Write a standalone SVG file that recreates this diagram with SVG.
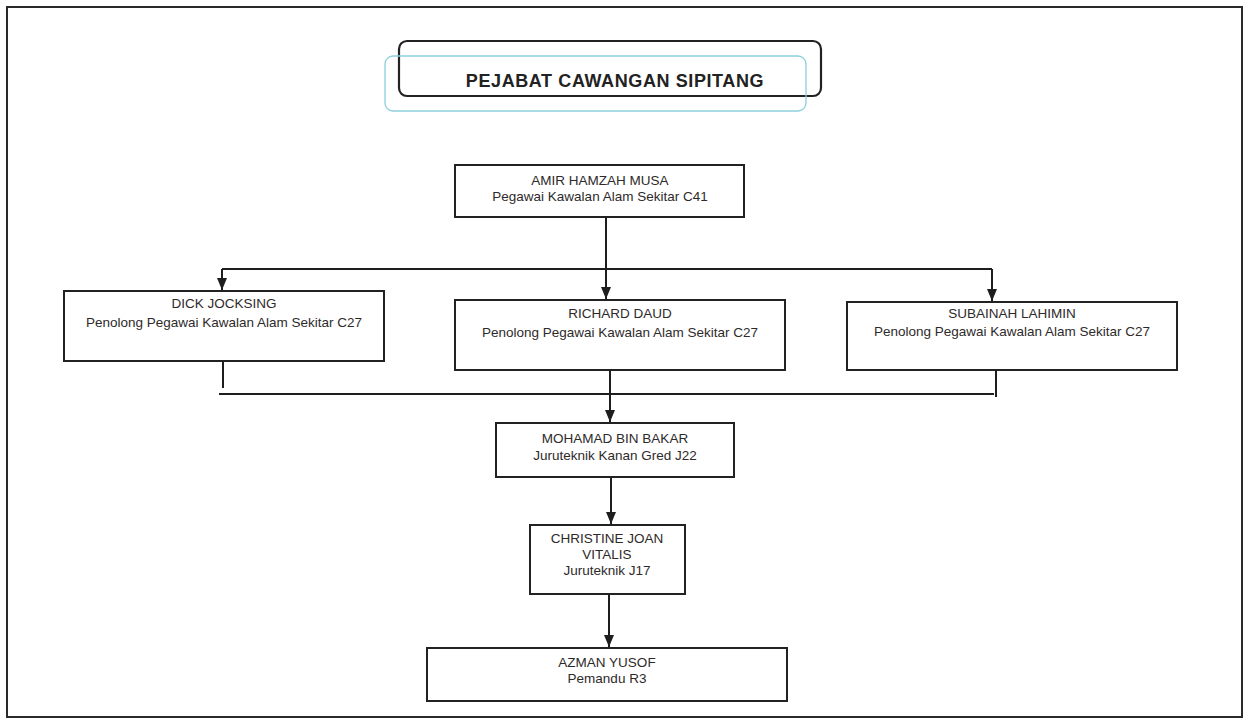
<svg xmlns="http://www.w3.org/2000/svg" width="1244" height="720" viewBox="0 0 1244 720">
<defs>
<marker id="arr" markerUnits="userSpaceOnUse" markerWidth="12" markerHeight="10" viewBox="0 0 12 10" refX="12" refY="5" orient="auto">
<path d="M0,0 L12,5 L0,10 Z" fill="#1e1e1e"/>
</marker>
</defs>
<style>
.box{fill:#fff;stroke:#222;stroke-width:2}
.t{font-family:"Liberation Sans",Arial,sans-serif;font-size:13.5px;fill:#2e2a2a;text-anchor:middle}
.c{fill:none;stroke:#1e1e1e;stroke-width:2}
</style>
<rect x="0" y="0" width="1244" height="720" fill="#fff"/>
<rect id="frame" x="7" y="7" width="1235" height="710" fill="none" stroke="#2a2a2a" stroke-width="2"/>

<g id="title">
<rect x="399" y="41" width="422" height="55" rx="8" fill="none" stroke="#222" stroke-width="2.2"/>
<rect x="385" y="56" width="421" height="55" rx="8" fill="none" stroke="#8ccfdc" stroke-width="1.3"/>
<text x="615" y="87" text-anchor="middle" font-family="'Liberation Sans',Arial,sans-serif" font-weight="bold" font-size="18" letter-spacing="0.6" fill="#222">PEJABAT CAWANGAN SIPITANG</text>
</g>

<g id="connectors">
<path class="c" d="M606,217 V299" marker-end="url(#arr)"/>
<path class="c" d="M222,269 H992"/>
<path class="c" d="M222,269 V290" marker-end="url(#arr)"/>
<path class="c" d="M992,269 V301" marker-end="url(#arr)"/>
<path class="c" d="M223,361 V388"/>
<path class="c" d="M996,370 V397"/>
<path class="c" d="M219,394 H994"/>
<path class="c" d="M610,363 V422" marker-end="url(#arr)"/>
<path class="c" d="M611,477 V524" marker-end="url(#arr)"/>
<path class="c" d="M609,594 V647" marker-end="url(#arr)"/>
</g>

<g id="amir">
<rect class="box" x="455" y="165" width="289" height="52"/>
<text class="t" x="600" y="185">AMIR HAMZAH MUSA</text>
<text class="t" x="600" y="201">Pegawai Kawalan Alam Sekitar C41</text>
</g>

<g id="dick">
<rect class="box" x="64" y="291" width="320" height="70"/>
<text class="t" x="224" y="308">DICK JOCKSING</text>
<text class="t" x="224" y="327">Penolong Pegawai Kawalan Alam Sekitar C27</text>
</g>

<g id="richard">
<rect class="box" x="455" y="300" width="330" height="70"/>
<text class="t" x="620" y="318">RICHARD DAUD</text>
<text class="t" x="620" y="337">Penolong Pegawai Kawalan Alam Sekitar C27</text>
</g>

<g id="subainah">
<rect class="box" x="847" y="302" width="330" height="68"/>
<text class="t" x="1012" y="318">SUBAINAH LAHIMIN</text>
<text class="t" x="1012" y="336">Penolong Pegawai Kawalan Alam Sekitar C27</text>
</g>

<g id="mohamad">
<rect class="box" x="496" y="423" width="238" height="54"/>
<text class="t" x="615" y="443">MOHAMAD BIN BAKAR</text>
<text class="t" x="615" y="460">Juruteknik Kanan Gred J22</text>
</g>

<g id="christine">
<rect class="box" x="530" y="525" width="155" height="69"/>
<text class="t" x="607" y="543">CHRISTINE JOAN</text>
<text class="t" x="607" y="559">VITALIS</text>
<text class="t" x="607" y="575">Juruteknik J17</text>
</g>

<g id="azman">
<rect class="box" x="427" y="648" width="360" height="53"/>
<text class="t" x="607" y="667">AZMAN YUSOF</text>
<text class="t" x="607" y="683">Pemandu R3</text>
</g>
</svg>
